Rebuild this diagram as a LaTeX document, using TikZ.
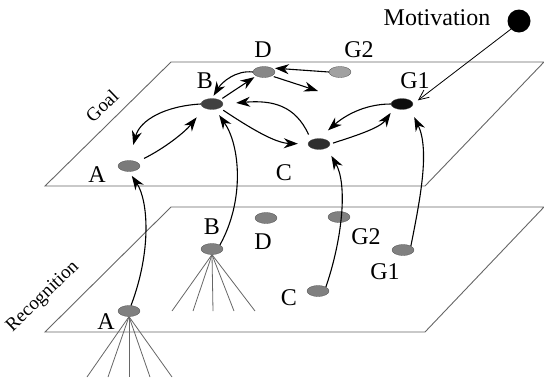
\documentclass[tikz,border=0pt]{standalone}
\usepackage{fontspec}
\setmainfont{Liberation Serif}
\usetikzlibrary{shapes.geometric,arrows.meta}
\begin{document}
\begin{tikzpicture}[x=1pt,y=-1pt,
  plane/.style={draw=black!60,line width=0.9pt},
  nd/.style={ellipse,minimum width=22pt,minimum height=11pt,inner sep=0pt,draw=black!70,line width=0.3pt},
  lbl/.style={font=\fontsize{24}{27}\selectfont,inner sep=0pt},
  rlbl/.style={font=\fontsize{19}{22}\selectfont,inner sep=0pt,rotate=44},
  arr/.style={line width=1.1pt,-{Stealth[length=14pt,width=10pt,inset=4.5pt]}},
  motarr/.style={line width=0.8pt,-{Straight Barb[length=10pt,width=9pt]}},
  fan/.style={draw=black!60,line width=0.8pt}]
\useasboundingbox (0,0) rectangle (544,381);
% planes
\draw[plane] (171,62) -- (544,62) -- (425,186) -- (45,186) -- cycle;
\draw[plane] (171,207) -- (544,207) -- (425,332) -- (45,332) -- cycle;
\node[rlbl] (goallbl) at (102,106) {Goal};
\node[rlbl] (reclbl) at (43,297) {Recognition};
% goal nodes
\node[nd,fill=black!52] (gA) at (129,166) {};
\node[nd,fill=black!75] (gB) at (212,104) {};
\node[nd,fill=black!47] (gD) at (264,72) {};
\node[nd,fill=black!37] (gG2) at (340,72) {};
\node[nd,fill=black!95] (gG1) at (402,104) {};
\node[nd,fill=black!82] (gC) at (319,144) {};
\node[circle,fill=black,minimum size=23pt,inner sep=0pt] (M) at (519,21) {};
% recognition nodes
\node[nd,fill=black!50] (rA) at (129,311) {};
\node[nd,fill=black!50] (rB) at (212,249) {};
\node[nd,fill=black!50] (rD) at (266,218) {};
\node[nd,fill=black!50] (rG2) at (339,217) {};
\node[nd,fill=black!50] (rG1) at (403,250) {};
\node[nd,fill=black!50] (rC) at (318,291) {};
% labels
\node[lbl] (tgA) at (97,175) {A};
\node[lbl] (tgB) at (205,81) {B};
\node[lbl] (tgD) at (263,50) {D};
\node[lbl] (tgG2) at (359,50) {G2};
\node[lbl] (tgG1) at (415,81) {G1};
\node[lbl] (tgC) at (284,173) {C};
\node[lbl] (tM) at (437,18) {Motivation};
\node[lbl] (trA) at (106,322) {A};
\node[lbl] (trB) at (212,227) {B};
\node[lbl] (trD) at (263,242) {D};
\node[lbl] (trG2) at (366,237) {G2};
\node[lbl] (trG1) at (385,272) {G1};
\node[lbl] (trC) at (289,298) {C};
% fans
\foreach \x in {172,193,213,234,255} \draw[fan] (rB.south) -- (\x,311);
\foreach \x in {87,108,129,150,172} \draw[fan] (rA.south) -- (\x,377);
% goal-plane connectors
\draw[arr,shorten >=16pt] (gB.west) .. controls (165,106) and (140,120) .. (gA.north);
\draw[arr,shorten <=8pt,shorten >=12pt] (gA.north east) .. controls (165,148) and (185,132) .. (gB.south west);
\draw[arr,shorten <=3pt,shorten >=2pt] (gB.north east) -- (gD.south west);
\draw[arr,shorten >=3pt] (gD.west) .. controls (236,70) and (222,82) .. (gB.north);
\draw[arr,shorten >=3pt] (gG2.west) -- (gD.north east);
\coordinate (dtip) at (318,91);
\draw[arr,shorten <=2pt] (gD.south east) -- (dtip);
\draw[arr,shorten <=6pt,shorten >=13pt] (gC.north west) .. controls (295,105) and (272,100) .. (gB.east);
\draw[arr,shorten <=4pt,shorten >=10pt] (gB.south east) .. controls (250,128) and (275,143) .. (gC.west);
\draw[arr,shorten >=12pt] (gG1.west) .. controls (362,104) and (342,118) .. (gC.north);
\draw[arr,shorten <=3pt,shorten >=6pt] (gC.east) .. controls (355,136) and (380,128) .. (gG1.south west);
\draw[motarr,shorten >=6pt] (M.south west) -- (gG1.east);
% recognition -> goal
\draw[arr,shorten >=5pt] (rA.70) .. controls (152,250) and (148,200) .. (gA.south);
\draw[arr,shorten >=7pt] (rB.north east) .. controls (245,200) and (240,145) .. (gB.-60);
\draw[arr,shorten >=9pt] (rC.north east) .. controls (342,240) and (348,185) .. (gC.south east);
\draw[arr,shorten >=10pt] (rG1.north east) .. controls (420,200) and (430,150) .. (gG1.south east);
\end{tikzpicture}
\end{document}
